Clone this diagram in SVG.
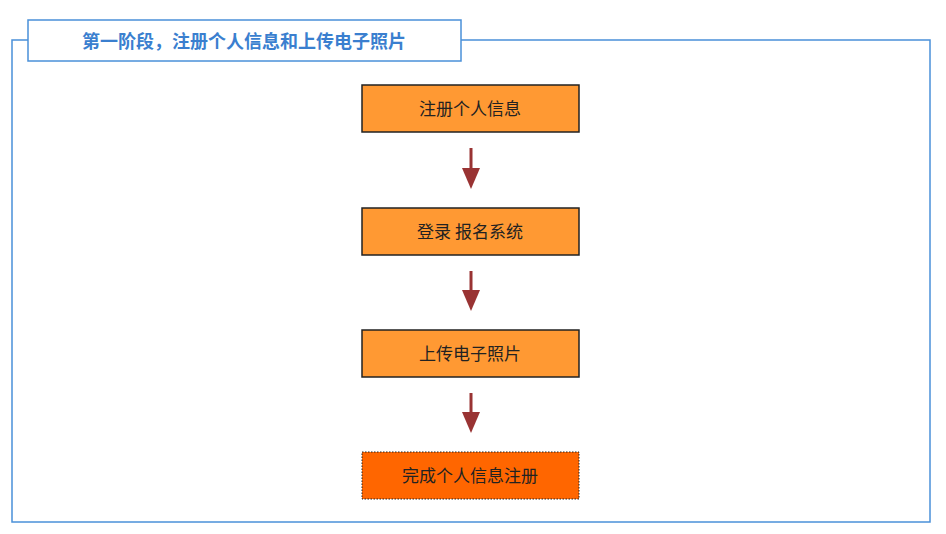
<svg xmlns="http://www.w3.org/2000/svg" width="946" height="534" viewBox="0 0 946 534">
<style>
.box{fill:#FF9933;stroke:#222;stroke-width:1.5}
.t{font-family:"Noto Sans CJK SC",sans-serif;font-size:17px;text-anchor:middle;fill:#222}
.arr{stroke:#993333;stroke-width:3}
</style>
<defs><marker id="ah" markerWidth="6" markerHeight="6" refX="5" refY="3" orient="auto" markerUnits="userSpaceOnUse" viewBox="0 0 6 6"><path d="M0,0L6,3L0,6Z" fill="#993333"/></marker></defs>
<rect x="0" y="0" width="946" height="534" fill="#fff"/>
<rect x="12" y="40" width="918" height="482" fill="none" stroke="#4A90D9" stroke-width="1.5"/>
<g id="title"><rect x="28" y="20" width="433" height="41" fill="#fff" stroke="#4A90D9" stroke-width="1.5"/>
<text x="244" y="48" font-family="Noto Sans CJK SC,sans-serif" font-size="18" font-weight="bold" fill="#3A7FCF" text-anchor="middle">第一阶段，注册个人信息和上传电子照片</text></g>
<g id="n1"><rect class="box" x="362" y="85" width="217" height="47"/><text class="t" x="470" y="115">注册个人信息</text></g>
<g id="n2"><rect class="box" x="362" y="208" width="217" height="47"/><text class="t" x="470" y="238">登录 报名系统</text></g>
<g id="n3"><rect class="box" x="362" y="330" width="217" height="47"/><text class="t" x="470" y="360">上传电子照片</text></g>
<g id="n4"><rect x="362" y="452" width="217" height="47" fill="#FF6600" stroke="#222" stroke-dasharray="1.5 1.5"/><text class="t" x="470" y="482" fill="#FFF3CC">完成个人信息注册</text></g>
<g id="connectors">
<path class="arr" d="M471 148V170"/><path d="M462 168H480L471 189Z" fill="#993333"/>
<path class="arr" d="M471 271V292"/><path d="M462 290H480L471 311Z" fill="#993333"/>
<path class="arr" d="M471 393V414"/><path d="M462 412H480L471 433Z" fill="#993333"/>
</g>
</svg>
